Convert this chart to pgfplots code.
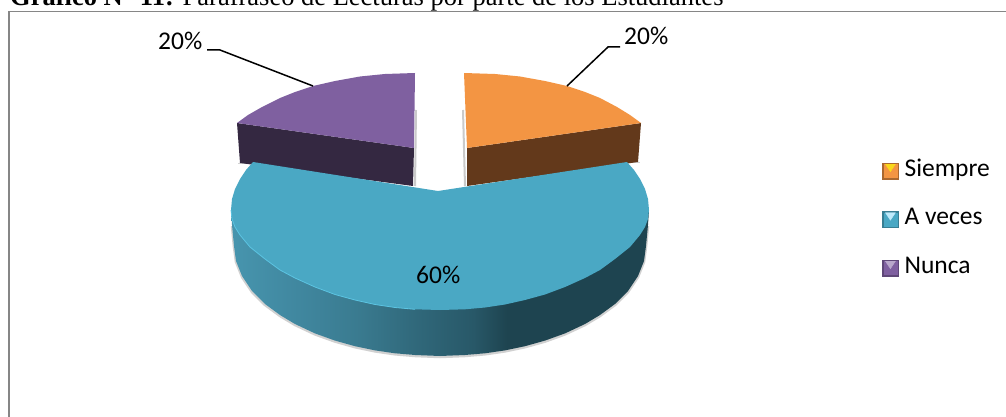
\documentclass[border=0pt]{standalone}
\usepackage{fontspec}
\setmainfont{Carlito}
\newfontfamily\titlefont{Liberation Serif}
\usepackage{pgfplots}
\pgfplotsset{compat=1.18}

\definecolor{orangetop}{HTML}{F39543}
\definecolor{orangeside}{HTML}{63391B}
\definecolor{purpletop}{HTML}{7F60A0}
\definecolor{purpleside}{HTML}{342841}
\definecolor{tealtop}{HTML}{4AA8C4}
\definecolor{tealhi}{HTML}{5CC4E2}
\definecolor{framegray}{HTML}{868686}
\definecolor{tealA}{HTML}{4795AE}
\definecolor{tealB}{HTML}{40879F}
\definecolor{tealC}{HTML}{3A7B90}
\definecolor{tealD}{HTML}{2F6678}
\definecolor{tealE}{HTML}{285868}
\definecolor{tealF}{HTML}{1E4450}
\pgfdeclarehorizontalshading{tealside}{100bp}{
  color(0bp)=(tealA); color(25bp)=(tealA); color(33bp)=(tealB); color(40bp)=(tealC);
  color(48bp)=(tealD); color(54bp)=(tealE); color(58bp)=(tealF); color(100bp)=(tealF)}

% legend square with the small pale triangle inside
\newcommand{\legmark}[3]{%
  \fill[#2] (0pt,-8pt) rectangle (16pt,8pt);
  \fill[#1] (1.5pt,-6.5pt) rectangle (14.5pt,6.5pt);
  \fill[#3] (3pt,6.5pt) -- (13pt,6.5pt) -- (8pt,-1pt) -- cycle;
}

\begin{document}
\begin{tikzpicture}
\path[use as bounding box] (0,0) rectangle (1006pt,417pt);
\begin{axis}[
  scale only axis, width=1006pt, height=417pt,
  xmin=0, xmax=1006, ymin=0, ymax=417, y dir=reverse,
  hide axis, clip=false,
  legend style={at={(axis cs:882,159)}, anchor=north west, draw=none, fill=none,
    font=\fontsize{25.5}{28}\selectfont, row sep=25.5pt, inner sep=0pt,
    nodes={inner sep=0pt, text height=17pt, text depth=6pt},
    /tikz/every odd column/.append style={column sep=6pt}},
  legend cell align=left,
]
\addlegendimage{legend image code/.code={\legmark{orangetop}{orangetop!70!black}{yellow!70!orangetop}}}
\addlegendimage{legend image code/.code={\legmark{tealtop}{tealtop!75!black}{cyan!25!white}}}
\addlegendimage{legend image code/.code={\legmark{purpletop}{purpletop!75!black}{purpletop!55!white}}}

% frame
\addplot[framegray, line width=1.5pt] coordinates {(9,417)(9,11.5)(1006,11.5)};

% soft shadows
\addplot[black!35, line width=2pt, opacity=.6] coordinates {(416,110)(415,186)};
\addplot[black!35, line width=2pt, opacity=.6] coordinates {(463,110)(465,186)};
\addplot[black!30, line width=1.5pt, opacity=.6] coordinates {(238,163.5)(253,163.5)};
\addplot[black!30, line width=1.5pt, opacity=.6] coordinates {(628,162.5)(640,162.5)};

% purple wedge
\addplot[draw=none, fill=purpleside] coordinates {(237,123)(414,148)(413,186)(240,163)} --cycle;
\addplot[draw=none, fill=purpletop] coordinates {
  (415,73)(414,148)(237,123)(248,115)(262,107)(280,98)(295,92)(313,86)(335,81)(360,76.5)(385,74)} --cycle;

% orange wedge
\addplot[draw=none, fill=orangeside] coordinates {(641,123)(467,148)(467,186)(638,162)} --cycle;
\addplot[draw=none, fill=orangetop] coordinates {
  (464,73)(467,148)(641,123)(630,115)(617,107)(600,98)(585,92)(567,86)(545,81)(520,76.5)(495,74)} --cycle;

% teal wedge: shadow, side, top
\addplot[draw=black!30, line width=2.5pt, opacity=.6] coordinates {
  (648,226)(646,247)(644,262)(638,277)(628,292)(615,305)(600,316)(585,325)(565,334.4)(545,341.6)
  (525,347.2)(505,351.4)(485,354.3)(465,356)(440,357)(415,356)(395,354.3)(375,351.4)(355,347.2)(335,341.6)
  (315,334.4)(295,325)(280,316)(265,305)(252,292)(242,277)(236,262)(234,247)(232,226)};
\addplot[draw=none, shading=tealside] coordinates {
  (649,210)(648,225)(646,246)(644,261)(638,276)(628,291)(615,304)(600,315)(585,324)(565,333.4)(545,340.6)
  (525,346.2)(505,350.4)(485,353.3)(465,355)(440,356)(415,355)(395,353.3)(375,350.4)(355,346.2)(335,340.6)
  (315,333.4)(295,324)(280,315)(265,304)(252,291)(242,276)(236,261)(234,246)(232,225)(231,210)} --cycle;
\addplot[draw=none, fill=tealtop] coordinates {
  (627,162)(634,170)(640,179)(645,189)(648,199)(649,210)(648,219)(645,227)(640,235)(630,247)(615,259)(600,270)
  (585,278)(565,287)(545,294.5)(525,300)(505,304.5)(485,307.5)(465,309.3)(440,310)(415,309.3)(395,307.5)
  (375,304.5)(355,300)(335,294.5)(315,287)(295,278)(280,270)(265,259)(250,247)(240,235)(235,227)(232,219)(231,210)
  (232,199)(235,189)(240,179)(246,170)(253,162)(438,191)};
\addplot[tealhi, line width=.8pt] coordinates {
  (231,210)(232,219)(235,227)(240,235)(250,247)(265,259)(280,270)(295,278)(315,287)(335,294.5)(355,300)(375,304.5)
  (395,307.5)(415,309.3)};

% leader lines
\addplot[black, line width=1.5pt] coordinates {(207,50)(220,50)(313,86)};
\addplot[black, line width=1.5pt] coordinates {(567,86)(608,47)(620,47)};

\node[anchor=base west, inner sep=0pt, font=\fontsize{25.5}{28}\selectfont] at (axis cs:158,50) {20\%};
\node[anchor=base west, inner sep=0pt, font=\fontsize{25.5}{28}\selectfont] at (axis cs:624,45) {20\%};
\node[anchor=base west, inner sep=0pt, font=\fontsize{25.5}{28}\selectfont] at (axis cs:416,283) {60\%};

\node[anchor=base west, inner sep=0pt, font=\fontsize{26.5}{28}\selectfont\titlefont] at (axis cs:10,5.5)
  {\textbf{Gráfico N° 11:} Parafraseo de Lecturas por parte de los Estudiantes};

\legend{Siempre,A veces,Nunca}
\end{axis}
\end{tikzpicture}
\end{document}
